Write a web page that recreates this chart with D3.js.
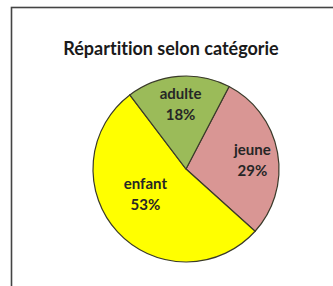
<!DOCTYPE html>
<html lang="fr">
<head>
<meta charset="UTF-8">
<title>Répartition selon catégorie</title>
<style>
  * { margin: 0; padding: 0; }
  html, body { overflow: hidden; background: #fff; }
  text { font-variant-ligatures: none; }
</style>
</head>
<body>
<div id="chart"></div>
<script src="https://cdn.jsdelivr.net/npm/d3@7"></script>
<script>
  const title = 'Répartition selon catégorie'
  const categories = ['jeune', 'enfant', 'adulte']
  const values = [29, 53, 18]

  function drawChart() {
    const width = 333
    const height = 286
    const svg = d3.select('#chart')
      .append('svg')
      .attr('width', width)
      .attr('height', height)
      .style('background', '#fff')

    // chart frame (runs off right and bottom edge)
    svg.append('rect')
      .attr('x', 11.5)
      .attr('y', 7.5)
      .attr('width', 400)
      .attr('height', 400)
      .attr('fill', '#fff')
      .attr('stroke', '#444')
      .attr('stroke-width', 1.6)

    svg.append('text')
      .attr('x', 171)
      .attr('y', 55)
      .attr('text-anchor', 'middle')
      .style('font-family', 'Lato, "Open Sans", sans-serif')
      .style('font-weight', 'bold')
      .style('font-size', '18px')
      .attr('fill', '#1a1a1a')
      .text(title)

    const cx = 186, cy = 169, r = 93
    const colors = d3.scaleOrdinal()
      .domain(categories)
      .range(['#d99694', '#ffff00', '#9bbb59'])

    const data = categories.map((c, i) => ({ cat: c, value: values[i] }))
    const pie = d3.pie()
      .value(d => d.value)
      .sort(null)
      .startAngle(27.6 * Math.PI / 180)
      .endAngle(27.6 * Math.PI / 180 + 2 * Math.PI)

    const arc = d3.arc().innerRadius(0).outerRadius(r)
    const g = svg.append('g').attr('transform', `translate(${cx},${cy})`)
    const arcs = pie(data)

    g.selectAll('path')
      .data(arcs)
      .join('path')
      .attr('d', arc)
      .attr('fill', d => colors(d.data.cat))
      .attr('stroke', '#3a3a2a')
      .attr('stroke-width', 1.2)

    // label distance from centre, fraction of radius
    const labelR = { jeune: 0.72, enfant: 0.51, adulte: 0.7 }
    const labelShift = { jeune: 0.05, enfant: 0.2, adulte: 0 }

    const labels = g.selectAll('g.lbl')
      .data(arcs)
      .join('g')
      .attr('class', 'lbl')
      .attr('transform', d => {
        const a = (d.startAngle + d.endAngle) / 2 + labelShift[d.data.cat]
        const rr = r * labelR[d.data.cat]
        return `translate(${rr * Math.sin(a)},${-rr * Math.cos(a)})`
      })
      .style('font-family', 'Lato, "Open Sans", sans-serif')
      .style('font-weight', 'bold')
      .style('font-size', '15px')
      .attr('fill', '#262626')
      .attr('text-anchor', 'middle')

    labels.append('text')
      .attr('y', -5)
      .text(d => d.data.cat)
    labels.append('text')
      .attr('y', 16)
      .text(d => d.data.value + '%')
  }

  drawChart()
</script>
</body>
</html>
